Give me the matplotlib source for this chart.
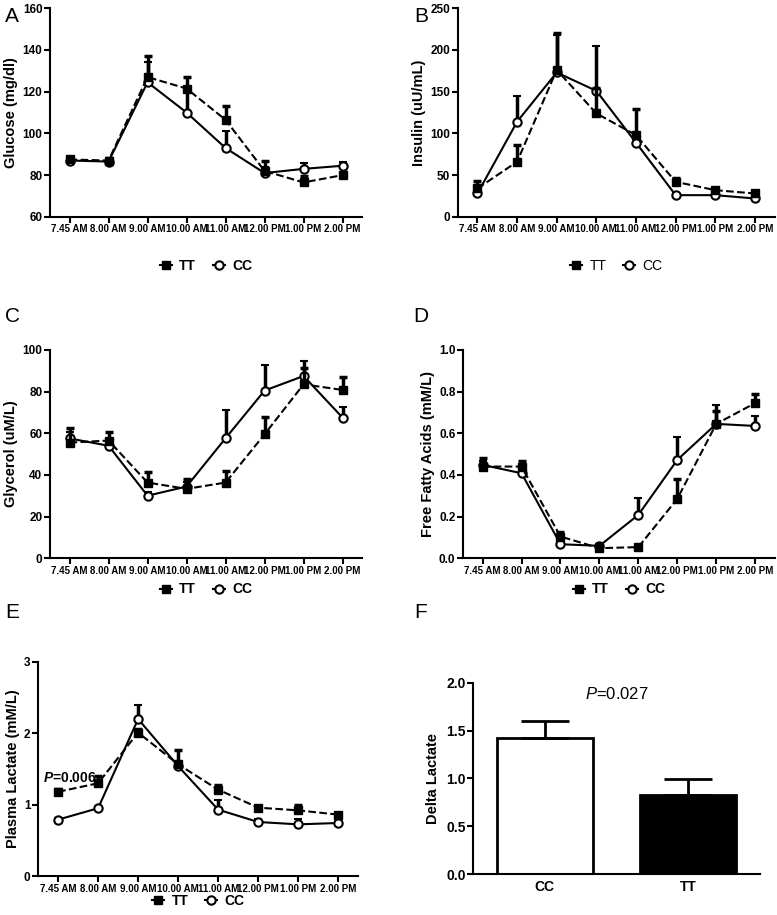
import matplotlib
matplotlib.use("Agg")
import matplotlib.pyplot as plt
import numpy as np
from matplotlib.lines import Line2D

plt.rcParams["font.family"] = ["Liberation Sans", "DejaVu Sans"]
plt.rcParams["mathtext.fontset"] = "custom"
plt.rcParams["mathtext.rm"] = "Liberation Sans"
plt.rcParams["mathtext.it"] = "Liberation Sans:italic"
plt.rcParams["mathtext.bf"] = "Liberation Sans:italic:bold"

times = ["7.45 AM", "8.00 AM", "9.00 AM", "10.00 AM", "11.00 AM", "12.00 PM", "1.00 PM", "2.00 PM"]

# Glucose (mg/dl)
glucoseTT = [87.5, 87, 127, 121.5, 106.5, 82, 76.5, 80]
glucoseTTerr = [1, 1, 10, 5.5, 6.5, 5, 3, 1]
glucoseCC = [87, 86.5, 124.5, 110, 93, 81, 83, 84.5]
glucoseCCerr = [1, 1, 9.5, 11, 8, 3, 3, 2]

# Insulin (uU/mL)
insulinTT = [34, 66, 176, 124, 98, 42, 32, 28]
insulinTTerr = [9, 20, 44, 30, 31, 5, 3, 2]
insulinCC = [28, 114, 173, 151, 89, 26, 26, 22]
insulinCCerr = [3, 31, 45, 54, 8, 2, 2, 2]

# Glycerol (uM/L)
glycerolTT = [55.5, 56.5, 36.3, 33.3, 36.3, 59.5, 83.5, 80.8]
glycerolTTerr = [7, 4, 5, 4.5, 5.7, 8.5, 8, 6]
glycerolCC = [57.5, 54, 30, 34.4, 57.6, 80.5, 87.5, 67.5]
glycerolCCerr = [3, 2, 2, 2, 13.6, 12.1, 7, 5.3]

# Free fatty acids (mM/L)
ffaTT = [0.44, 0.44, 0.104, 0.048, 0.053, 0.285, 0.645, 0.745]
ffaTTerr = [0.04, 0.025, 0.02, 0.02, 0.005, 0.095, 0.06, 0.042]
ffaCC = [0.448, 0.408, 0.067, 0.059, 0.208, 0.472, 0.645, 0.635]
ffaCCerr = [0.02, 0.02, 0.01, 0.01, 0.08, 0.108, 0.09, 0.048]

# Plasma lactate (mM/L)
lactateTT = [1.18, 1.30, 2.01, 1.565, 1.21, 0.958, 0.92, 0.86]
lactateTTerr = [0.04, 0.1, 0.05, 0.2, 0.07, 0.02, 0.08, 0.02]
lactateCC = [0.79, 0.95, 2.2, 1.54, 0.93, 0.757, 0.724, 0.743]
lactateCCerr = [0.02, 0.02, 0.2, 0.05, 0.13, 0.04, 0.07, 0.02]

# Delta lactate
groups = ["CC", "TT"]
deltaLactate = [1.42, 0.83]
deltaLactateErr = [0.18, 0.16]

fig = plt.figure(figsize=(7.77, 9.15), dpi=100)


def style_axes(ax, ysize=8.5):
    for side in ["top", "right"]:
        ax.spines[side].set_visible(False)
    for side in ["left", "bottom"]:
        ax.spines[side].set_linewidth(1.5)
    ax.tick_params(width=1.5, length=4, direction="out", pad=1.5)
    for lab in ax.get_yticklabels():
        lab.set_fontweight("bold")
        lab.set_fontsize(ysize)


def time_panel(rect, tt, tterr, cc, ccerr, ylabel, ylim, yticks, legendY, legendBold=True):
    ax = fig.add_axes(rect)
    x = np.arange(len(times))
    ax.errorbar(x, cc, yerr=[np.zeros(len(cc)), ccerr], fmt="-o", color="black",
                mfc="white", mec="black", mew=1.5, ms=6, lw=1.5,
                elinewidth=2.5, capsize=3, capthick=2.5, zorder=3)
    ax.errorbar(x, tt, yerr=[np.zeros(len(tt)), tterr], fmt="--s", color="black",
                ms=5.5, lw=1.5, elinewidth=2.5, capsize=3, capthick=2.5, zorder=4)
    ax.set_xlim(-0.5, 7.5)
    ax.set_ylim(*ylim)
    ax.set_yticks(yticks)
    ax.set_xticks(x)
    ax.set_xticklabels(times, fontsize=7, fontweight="bold")
    ax.set_ylabel(ylabel, fontsize=10.5, fontweight="bold", labelpad=3)
    style_axes(ax)
    handles = [
        Line2D([], [], color="black", lw=1.5, marker="s", ms=5.5),
        Line2D([], [], color="black", lw=1.5, marker="o", ms=6, mfc="white", mew=1.5),
    ]
    w = "bold" if legendBold else "normal"
    ax.legend(handles, ["TT", "CC"], loc="center", ncol=2, frameon=False,
              bbox_to_anchor=(0.5, legendY), bbox_transform=ax.transAxes,
              prop={"size": 10, "weight": w}, handlelength=0.9,
              handletextpad=0.5, columnspacing=1.2)
    return ax


time_panel([0.0644, 0.763, 0.4016, 0.228], glucoseTT, glucoseTTerr, glucoseCC, glucoseCCerr,
           "Glucose (mg/dl)", (60, 160), [60, 80, 100, 120, 140, 160], -0.235)
time_panel([0.589, 0.763, 0.408, 0.228], insulinTT, insulinTTerr, insulinCC, insulinCCerr,
           "Insulin (uU/mL)", (0, 250), [0, 50, 100, 150, 200, 250], -0.235, legendBold=False)
time_panel([0.0644, 0.390, 0.4016, 0.2275], glycerolTT, glycerolTTerr, glycerolCC, glycerolCCerr,
           "Glycerol (uM/L)", (0, 100), [0, 20, 40, 60, 80, 100], -0.15)
time_panel([0.596, 0.390, 0.401, 0.2275], ffaTT, ffaTTerr, ffaCC, ffaCCerr,
           "Free Fatty Acids (mM/L)", (0, 1.0), [0.0, 0.2, 0.4, 0.6, 0.8, 1.0], -0.15)
axE = time_panel([0.049, 0.0426, 0.412, 0.234], lactateTT, lactateTTerr, lactateCC, lactateCCerr,
                 "Plasma Lactate (mM/L)", (0, 3), [0, 1, 2, 3], -0.115)
axE.text(-0.37, 1.38, r"$\mathbf{P}$=0.006", fontsize=10, fontweight="bold", va="center", ha="left")

# Panel F
axF = fig.add_axes([0.609, 0.0448, 0.369, 0.2088])
xb = np.arange(len(groups))
axF.bar(xb, deltaLactate, width=0.67, color=["white", "black"], edgecolor="black", linewidth=2)
axF.errorbar(xb, deltaLactate, yerr=[np.zeros(2), deltaLactateErr], fmt="none", ecolor="black",
             elinewidth=2, capsize=17, capthick=2)
axF.set_xlim(-0.5, 1.5)
axF.set_ylim(0, 2.0)
axF.set_yticks([0.0, 0.5, 1.0, 1.5, 2.0])
axF.set_yticklabels(["0.0", "0.5", "1.0", "1.5", "2.0"])
axF.set_xticks(xb)
axF.set_xticklabels(groups, fontsize=10, fontweight="bold")
axF.set_ylabel("Delta Lactate", fontsize=10.5, fontweight="bold", labelpad=4)
style_axes(axF, ysize=10)
axF.tick_params(axis="x", length=0, pad=4)
axF.text(0.5, 1.88, r"$\mathit{P}$=0.027", fontsize=12, ha="center", va="center")

# Panel letters
for lab, (px, py) in zip("ABCDEF", [(12, 16), (421, 16), (12, 316), (421, 316), (12, 613), (421, 613)]):
    fig.text(px / 777, 1 - py / 915, lab, fontsize=15, ha="center", va="center")

fig.savefig("out.png", dpi=100)
